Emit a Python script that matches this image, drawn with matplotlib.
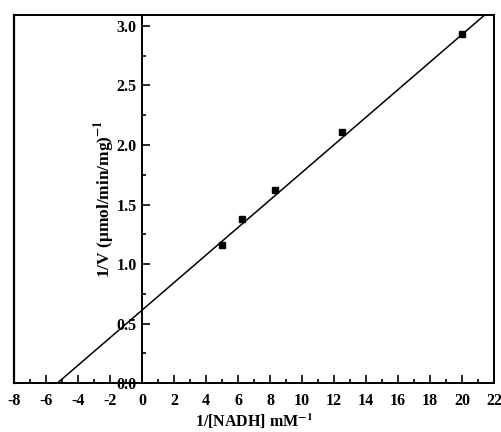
import numpy as np
import matplotlib
matplotlib.use('Agg')
from matplotlib import pyplot as plt
from matplotlib.ticker import MultipleLocator

inv_nadh = [5.0, 6.25, 8.33, 12.5, 20.0]
inv_v = [1.16, 1.38, 1.62, 2.11, 2.93]

fit_slope = 0.1157
fit_intercept = 0.613

plt.rcParams['font.family'] = ['Liberation Serif', 'DejaVu Serif']
plt.rcParams['axes.unicode_minus'] = False
plt.rcParams['mathtext.fontset'] = 'stix'

fig = plt.figure(figsize=(5.02, 4.32), dpi=100)
ax = fig.add_axes([0.028, 0.113, 0.956, 0.852])

ax.plot(inv_nadh, inv_v, 's', color='black', markersize=4)
xs = np.array([-fit_intercept / fit_slope, 22])
ax.plot(xs, fit_slope * xs + fit_intercept, color='black', linewidth=1.1)

ax.set_xlim(-8, 22)
ax.set_ylim(0, 3.09)

# y axis sits at x = 0, outer box drawn separately
ax.spines['left'].set_position(('data', 0))
ax.plot([0, 0], [0, 1], transform=ax.transAxes, color='black', linewidth=1.6, clip_on=False)
for s in ['bottom', 'top', 'right', 'left']:
	ax.spines[s].set_linewidth(1.4)

ax.xaxis.set_major_locator(MultipleLocator(2))
ax.xaxis.set_minor_locator(MultipleLocator(1))
ax.yaxis.set_major_locator(MultipleLocator(0.5))
ax.yaxis.set_minor_locator(MultipleLocator(0.25))
ax.yaxis.set_major_formatter(matplotlib.ticker.FormatStrFormatter('%.1f'))

ax.tick_params(which='both', direction='in', top=False, right=False, width=1.2)
ax.tick_params(which='major', length=6)
ax.tick_params(which='minor', length=3)
ax.tick_params(axis='x', labelsize=11.5, pad=7)
ax.tick_params(axis='y', labelsize=11.5, pad=4)
for lab in ax.get_xticklabels() + ax.get_yticklabels():
	lab.set_fontweight('bold')

ax.set_xlabel('1/[NADH] mM$^{\\mathbf{-1}}$', fontsize=11.5, fontweight='bold')
ax.xaxis.set_label_coords(0.5, -0.078)
ax.set_ylabel('1/V (\u03bcmol/min/mg)$^{\\mathbf{-1}}$', fontsize=12.5, fontweight='bold')
ax.yaxis.set_label_coords(0.215, 0.5)

plt.savefig('out.png', dpi=100)
